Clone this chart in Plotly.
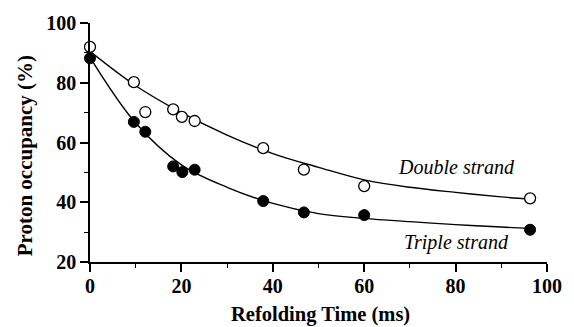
import plotly.graph_objects as go

# Data
time_double = [0, 9.6, 12.1, 18.2, 20.1, 22.9, 37.9, 46.8, 60.0, 96.3]
occ_double = [92.0, 80.2, 70.2, 71.1, 68.6, 67.2, 58.1, 50.9, 45.4, 41.3]

time_triple = [0, 9.6, 12.1, 18.2, 20.2, 22.9, 37.9, 46.8, 60.0, 96.3]
occ_triple = [88.2, 66.9, 63.6, 52.0, 50.1, 50.9, 40.4, 36.6, 35.7, 30.8]

# Fitted curves
fit_time = [0, 10, 20, 30, 40, 50, 60, 70, 80, 90, 96.5]
fit_double = [90.5, 79.0, 70.0, 62.5, 56.3, 51.7, 47.5, 45.0, 43.3, 41.8, 41.0]
fit_triple = [88.5, 66.5, 52.5, 45.0, 39.6, 36.2, 34.6, 33.5, 32.5, 31.7, 31.3]

x_ticks = [0, 20, 40, 60, 80, 100]
y_ticks = [20, 40, 60, 80, 100]

FONT = "'Times New Roman', 'DejaVu Serif', serif"

fig = go.Figure()
fig.add_trace(go.Scatter(x=fit_time, y=fit_double, mode="lines", line=dict(color="black", width=1.4, shape="spline"),
                         hoverinfo="skip", showlegend=False, cliponaxis=False))
fig.add_trace(go.Scatter(x=fit_time, y=fit_triple, mode="lines", line=dict(color="black", width=1.4, shape="spline"),
                         hoverinfo="skip", showlegend=False, cliponaxis=False))
fig.add_trace(go.Scatter(x=time_double, y=occ_double, mode="markers", name="Double strand",
                         marker=dict(symbol="circle", size=11, color="white", line=dict(color="black", width=1.3)),
                         showlegend=False, cliponaxis=False))
fig.add_trace(go.Scatter(x=time_triple, y=occ_triple, mode="markers", name="Triple strand",
                         marker=dict(symbol="circle", size=11, color="black", line=dict(color="black", width=1)),
                         showlegend=False, cliponaxis=False))

fig.add_annotation(x=80.3, y=51.9, xref="x", yref="y", text="<i>Double strand</i>", showarrow=False,
                   font=dict(family=FONT, size=20, color="black"))
fig.add_annotation(x=80.1, y=26.6, xref="x", yref="y", text="<i>Triple strand</i>", showarrow=False,
                   font=dict(family=FONT, size=20, color="black"))
fig.add_annotation(x=-0.1424, y=0.446, xref="paper", yref="paper", text="<b>Proton occupancy (%)</b>",
                   textangle=-90, showarrow=False, xanchor="center", yanchor="middle",
                   font=dict(family=FONT, size=21, color="black"))
fig.add_annotation(x=0.505, y=-0.218, xref="paper", yref="paper", text="<b>Refolding Time (ms)</b>",
                   showarrow=False, xanchor="center", yanchor="middle",
                   font=dict(family=FONT, size=20.5, color="black"))

fig.update_layout(
    width=574, height=327,
    margin=dict(l=90, r=17, t=20, b=65),
    paper_bgcolor="white", plot_bgcolor="white",
    font=dict(family=FONT, color="black"),
)
axis_common = dict(
    showline=True, linecolor="black", linewidth=1.6, showgrid=False, zeroline=False,
    ticks="outside", ticklen=8, tickwidth=1.5, tickcolor="black",
    minor=dict(ticks="outside", ticklen=4, tickwidth=1.3, tickcolor="black", dtick=10, showgrid=False),
    tickfont=dict(family=FONT, size=20, color="black", weight="bold"),
)
fig.update_xaxes(range=[0, 100], tickvals=x_ticks, ticktext=[str(v) for v in x_ticks],
                 ticklabelstandoff=-3, **axis_common)
fig.update_yaxes(range=[20, 100], tickvals=y_ticks, ticktext=[str(v) for v in y_ticks], **axis_common)

fig.write_html("out.html")
